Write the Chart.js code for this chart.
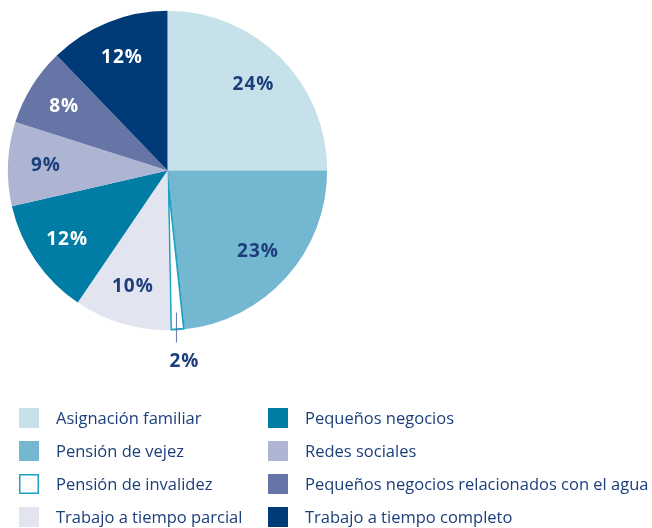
<!DOCTYPE html>
<html>
<head>
<meta charset="utf-8">
<script src="https://cdn.jsdelivr.net/npm/chart.js@4/dist/chart.umd.min.js"></script>
<style>
  html, body { margin: 0; padding: 0; background: #fff; }
  #wrap { width: 652px; height: 528px; position: relative; }
</style>
</head>
<body>
<div id="wrap"><canvas id="chart" width="652" height="528"></canvas></div>
<script>
// Data
const categories = [
  "Asignación familiar",
  "Pensión de vejez",
  "Pensión de invalidez",
  "Trabajo a tiempo parcial",
  "Pequeños negocios",
  "Redes sociales",
  "Pequeños negocios relacionados con el agua",
  "Trabajo a tiempo completo",
]
const shares = [25, 23.3, 1.4, 9.8, 11.9, 8.5, 7.9, 12.2]
const shareLabels = ["24%", "23%", "2%", "10%", "12%", "9%", "8%", "12%"]

// Styles
const sliceColors = ["#c6e1e9", "#74b7d0", "#ffffff", "#e2e4ef", "#007ca5", "#adb5d3", "#6675a6", "#003b78"]
const sliceBorders = ["#c6e1e9", "#74b7d0", "#1ea1c2", "#e2e4ef", "#007ca5", "#adb5d3", "#6675a6", "#003b78"]
const sliceBorderWidths = [0, 0, 1.5, 0, 0, 0, 0, 0]
const labelColors = ["#1c3f7c", "#1c3f7c", "#1c3f7c", "#1c3f7c", "#ffffff", "#1c3f7c", "#ffffff", "#ffffff"]
const navy = "#1c3f7c"
const fontFamily = "'Open Sans', 'DejaVu Sans', sans-serif"

// Percentage labels inside slices, with a leader line for the tiny one
const sliceLabels = {
  id: "sliceLabels",
  afterDatasetsDraw(chart) {
    const ctx = chart.ctx
    const arcs = chart.getDatasetMeta(0).data
    ctx.save()
    ctx.font = "bold 19px " + fontFamily
    ctx.letterSpacing = "1px"
    ctx.textAlign = "center"
    ctx.textBaseline = "middle"
    arcs.forEach((arc, i) => {
      const { x, y, startAngle, endAngle, outerRadius } = arc.getProps(["x", "y", "startAngle", "endAngle", "outerRadius"], true)
      const mid = (startAngle + endAngle) / 2
      if (shares[i] < 3) {
        // outside label with leader line
        const lx = x + Math.cos(mid) * outerRadius * 0.89
        const ly = y + Math.sin(mid) * outerRadius * 0.89
        ctx.strokeStyle = "#6675a6"
        ctx.lineWidth = 1
        ctx.beginPath()
        ctx.moveTo(lx, ly)
        ctx.lineTo(lx, y + outerRadius + 12)
        ctx.stroke()
        ctx.fillStyle = labelColors[i]
        ctx.fillText(shareLabels[i], lx + 8, y + outerRadius + 31)
        return
      }
      const r = outerRadius * 0.76
      ctx.fillStyle = labelColors[i]
      ctx.fillText(shareLabels[i], x + Math.cos(mid) * r, y + Math.sin(mid) * r)
    })
    ctx.restore()
  },
}

// Two-column legend below the pie
const columnLegend = {
  id: "columnLegend",
  afterDraw(chart) {
    const ctx = chart.ctx
    const perColumn = 4
    ctx.save()
    ctx.font = "16.5px " + fontFamily
    ctx.textBaseline = "middle"
    categories.forEach((name, i) => {
      const col = Math.floor(i / perColumn)
      const row = i % perColumn
      const bx = 19 + col * 249
      const by = 418 + row * 33
      if (sliceBorderWidths[i] > 0) {
        ctx.fillStyle = "#fff"
        ctx.fillRect(bx, by - 10, 20, 20)
        ctx.strokeStyle = sliceBorders[i]
        ctx.lineWidth = 1.5
        ctx.strokeRect(bx + 0.75, by - 9.25, 18.5, 18.5)
      } else {
        ctx.fillStyle = sliceColors[i]
        ctx.fillRect(bx, by - 10, 20, 20)
      }
      ctx.fillStyle = navy
      ctx.fillText(name, bx + 37, by + 1)
    })
    ctx.restore()
  },
}

new Chart(document.getElementById("chart"), {
  type: "pie",
  data: {
    labels: categories,
    datasets: [
      {
        data: shares,
        backgroundColor: sliceColors,
        borderColor: sliceBorders,
        borderWidth: sliceBorderWidths,
        borderAlign: "inner",
      },
    ],
  },
  options: {
    responsive: false,
    animation: false,
    radius: 160,
    layout: { padding: { left: 7, top: 10, right: 324, bottom: 197 } },
    plugins: {
      legend: { display: false },
      tooltip: { enabled: false },
    },
  },
  plugins: [sliceLabels, columnLegend],
})
</script>
</body>
</html>
